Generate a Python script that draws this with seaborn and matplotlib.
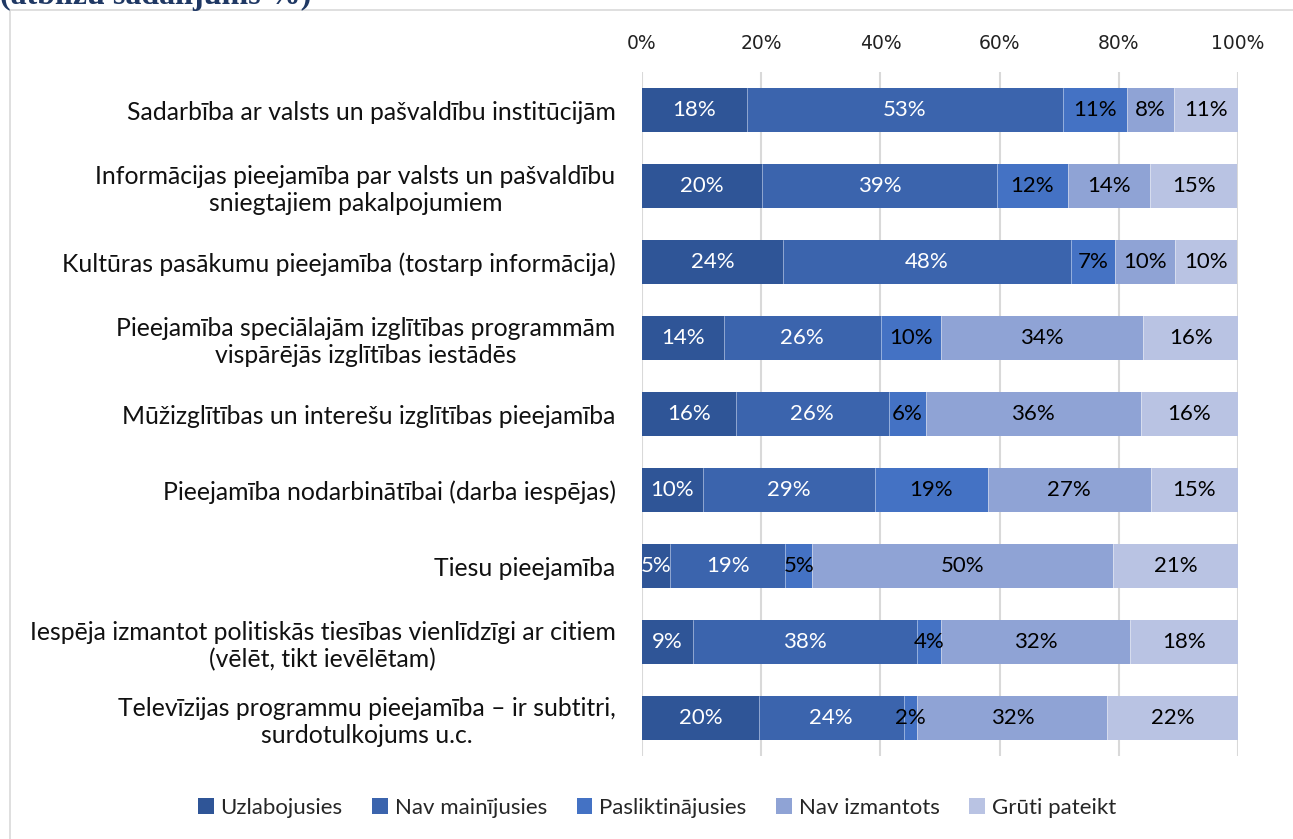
import matplotlib
matplotlib.use("Agg")
import matplotlib.pyplot as plt
import seaborn as sns
import numpy as np
import pandas as pd
from matplotlib.patches import Patch, Rectangle

categories = [
    "Sadarbība ar valsts un pašvaldību institūcijām",
    "Informācijas pieejamība par valsts un pašvaldību\nsniegtajiem pakalpojumiem",
    "Kultūras pasākumu pieejamība (tostarp informācija)",
    "Pieejamība speciālajām izglītības programmām\nvispārējās izglītības iestādēs",
    "Mūžizglītības un interešu izglītības pieejamība",
    "Pieejamība nodarbinātībai (darba iespējas)",
    "Tiesu pieejamība",
    "Iespēja izmantot politiskās tiesības vienlīdzīgi ar citiem\n(vēlēt, tikt ievēlētam)",
    "Televīzijas programmu pieejamība – ir subtitri,\nsurdotulkojums u.c.",
]
series_names = ["Uzlabojusies", "Nav mainījusies", "Pasliktinājusies", "Nav izmantots", "Grūti pateikt"]
uzlabojusies = [17.6, 20.2, 23.6, 13.7, 15.7, 10.2, 4.7, 8.6, 19.6]
nav_mainijusies = [53.0, 39.3, 48.4, 26.4, 25.7, 28.9, 19.3, 37.6, 24.3]
pasliktinajusies = [10.8, 12.0, 7.4, 10.0, 6.2, 18.9, 4.6, 3.9, 2.3]
nav_izmantots = [7.9, 13.8, 10.1, 34.0, 36.1, 27.4, 50.4, 31.8, 31.9]
gruti_pateikt = [10.7, 14.6, 10.4, 16.0, 16.3, 14.6, 21.0, 18.1, 21.9]
tick_values = [0, 20, 40, 60, 80, 100]
tick_labels = ["0%", "20%", "40%", "60%", "80%", "100%"]

colors = ["#2F5597", "#3B64AD", "#4472C4", "#8FA3D5", "#B9C3E3"]
label_colors = ["white", "white", "black", "black", "black"]

series = [uzlabojusies, nav_mainijusies, pasliktinajusies, nav_izmantots, gruti_pateikt]
vals = np.array(series)  # shape (5, 9)
cum = np.cumsum(vals, axis=0)

W, H = 1293, 839
fig = plt.figure(figsize=(W / 100, H / 100), dpi=100)
sns.set_style("white")
plt.rcParams["font.family"] = ["Lato", "DejaVu Sans"]

# border
fig.add_artist(Rectangle((10 / W, -0.1), 1.2, 1 - 10 / H + 0.1, transform=fig.transFigure,
                         fill=False, edgecolor="#D9D9D9", linewidth=1.2))
# clipped title (only its lower part is visible, as in the reference)
fig.text(0 / W, 1 - 4 / H, "(atbilžu sadalījums %)", ha="left", va="baseline",
         fontsize=23, fontweight="bold", color="#1F3864", family="Liberation Serif")

ax = fig.add_axes([642 / W, 1 - 756 / H, (1238 - 642) / W, (756 - 72) / H])

for i in range(4, -1, -1):
    df = pd.DataFrame({"cat": categories, "val": cum[i]})
    sns.barplot(data=df, x="val", y="cat", orient="h", color=colors[i], saturation=1,
                width=0.59, ax=ax, edgecolor="none", linewidth=0)

for i in range(5):
    for j in range(len(categories)):
        v = vals[i, j]
        mid = cum[i, j] - v / 2
        ax.text(mid, j, f"{v:.0f}%", ha="center", va="center", fontsize=16,
                color=label_colors[i])
        if i > 0:
            ax.plot([cum[i - 1, j]] * 2, [j - 0.295, j + 0.295], color="white", lw=0.6, alpha=0.5)

ax.set_xlim(0, 100)
ax.set_ylim(len(categories) - 0.5, -0.5)
ax.set_xticks(tick_values)
ax.set_xticklabels(tick_labels, family="DejaVu Sans", fontsize=13.5, color="#222222")
ax.xaxis.tick_top()
ax.tick_params(axis="x", length=0, pad=14)
ax.tick_params(axis="y", length=0, pad=19)
for lab in ax.get_yticklabels():
    lab.set_fontsize(17.8)
    lab.set_color("#111111")
    lab.set_multialignment("center")
ax.set_xlabel("")
ax.set_ylabel("")
ax.grid(axis="x", color="#D9D9D9", linewidth=1.5)
ax.set_axisbelow(True)
for s in ax.spines.values():
    s.set_visible(False)

handles = [Patch(facecolor=c, edgecolor="none") for c in colors]
fig.legend(handles, series_names, loc="center", bbox_to_anchor=(657 / W, 1 - 808 / H), ncol=5,
           frameon=False, fontsize=16, handlelength=0.7, handleheight=0.7,
           handletextpad=0.3, columnspacing=1.35)

fig.savefig("out.png", dpi=100)
